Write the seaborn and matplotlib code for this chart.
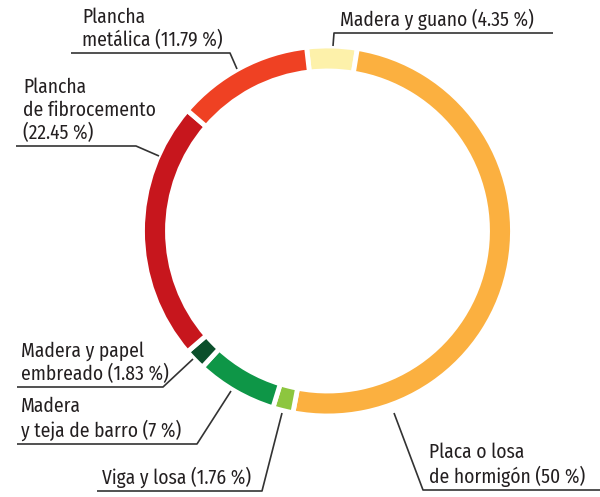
import matplotlib.pyplot as plt
import seaborn as sns

# Data (clockwise from the top)
labels = ["Madera y guano", "Placa o losa de hormigón", "Viga y losa",
          "Madera y teja de barro", "Madera y papel embreado",
          "Plancha de fibrocemento", "Plancha metálica"]
shares = [4.35, 50, 1.76, 7, 1.83, 22.45, 11.79]
colors = ["#FDF1AA", "#FBB040", "#8DC63F", "#0E9647", "#0B4F2B", "#C7161D", "#EF4123"]

label_text = ["Madera y guano (4.35 %)",
              "Placa o losa\nde hormigón (50 %)",
              "Viga y losa (1.76 %)",
              "Madera\ny teja de barro (7 %)",
              "Madera y papel\nembreado (1.83 %)",
              "Plancha\nde fibrocemento\n(22.45 %)",
              "Plancha\nmetálica (11.79 %)"]

sns.set_style("white")
plt.rcParams['font.family'] = ['Fira Sans Condensed', 'DejaVu Sans']

W, H = 600, 497
fig = plt.figure(figsize=(6, 4.97), dpi=100)
ax = fig.add_axes([0, 0, 1, 1])

# pie in screen coords (y inverted -> counterclock=True draws clockwise on screen)
ax.pie(shares, colors=colors, center=(327.5, 231), radius=185,
       startangle=-90 - 6.5, counterclock=True, frame=True,
       wedgeprops=dict(width=25, edgecolor='white', linewidth=3.5))
ax.set_xlim(0, W)
ax.set_ylim(H, 0)
ax.set_aspect('equal')
ax.axis('off')

lc = "#333333"
tc = "#231F20"
fs = 14

# leader lines: points, then text anchor (left, baseline-ish)
leaders = [
    [(333, 46), (334, 33), (553, 33)], [(394, 413), (423, 490), (600, 490)],
    [(282, 413), (262, 491), (97, 491)], [(231, 391), (197, 444), (17, 444)],
    [(193, 359), (163, 387), (17, 387)], [(159, 156), (136, 146), (16, 146)],
    [(237, 69), (230, 53), (71, 53)],
]
anchors = [(340, 30), (429, 487), (102, 488), (21, 441), (21, 384), (23, 143), (82, 50)]

for pts, (tx, ty), txt in zip(leaders, anchors, label_text):
    ax.plot([p[0] for p in pts], [p[1] for p in pts], color=lc, lw=1.2,
            solid_capstyle='butt')
    ax.text(tx, ty, txt, ha='left', va='bottom', fontsize=fs, color=tc,
            linespacing=1.2)

fig.savefig("out.png", dpi=100)
